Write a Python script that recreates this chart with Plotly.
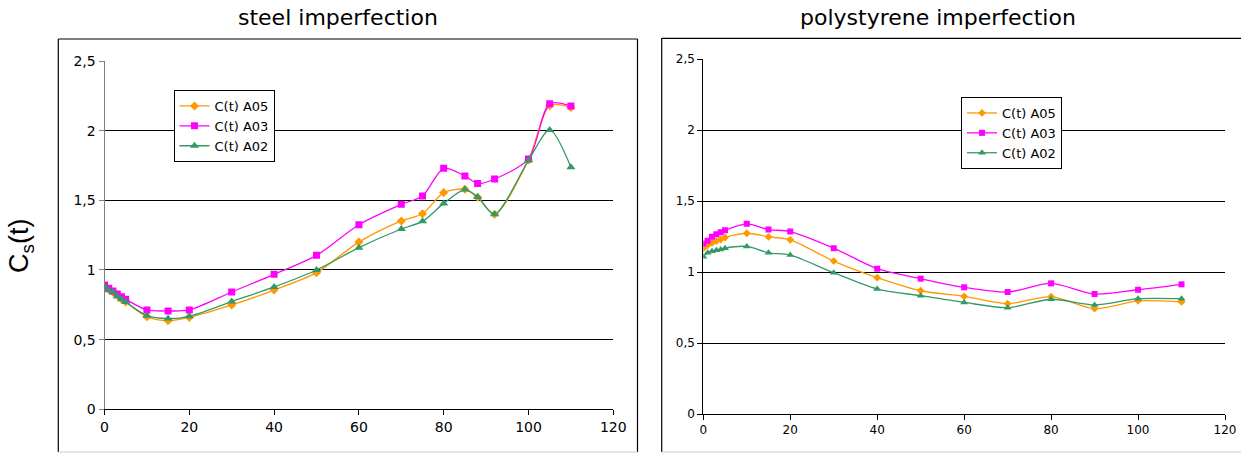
import plotly.graph_objects as go

# ---------------- data ----------------
t_steel = [0, 1, 2, 3, 4, 5, 10, 15, 20, 30, 40, 50, 60, 70, 75, 80, 85, 88, 92, 100, 105, 110]
steel_A05 = [0.88, 0.86, 0.84, 0.82, 0.79, 0.77, 0.665, 0.636, 0.66, 0.749, 0.856, 0.981, 1.20, 1.352, 1.404,
             1.555, 1.579, 1.522, 1.40, 1.79, 2.18, 2.167]
steel_A03 = [0.892, 0.868, 0.849, 0.827, 0.808, 0.79, 0.713, 0.706, 0.713, 0.842, 0.969, 1.105, 1.325, 1.471,
             1.531, 1.73, 1.675, 1.62, 1.653, 1.797, 2.194, 2.177]
steel_A02 = [0.885, 0.855, 0.84, 0.81, 0.79, 0.77, 0.672, 0.651, 0.667, 0.773, 0.878, 1.0, 1.16, 1.294, 1.349,
             1.478, 1.577, 1.524, 1.40, 1.787, 2.005, 1.737]

t_poly = [0, 1, 2, 3, 4, 5, 10, 15, 20, 30, 40, 50, 60, 70, 80, 90, 100, 110]
poly_A05 = [1.166, 1.19, 1.205, 1.217, 1.229, 1.243, 1.273, 1.248, 1.227, 1.077, 0.96, 0.868, 0.829, 0.777,
            0.826, 0.742, 0.796, 0.789]
poly_A03 = [1.20, 1.22, 1.248, 1.266, 1.28, 1.294, 1.339, 1.299, 1.285, 1.168, 1.023, 0.953, 0.892, 0.859,
            0.92, 0.845, 0.875, 0.913]
poly_A02 = [1.107, 1.135, 1.147, 1.154, 1.159, 1.168, 1.18, 1.135, 1.119, 0.995, 0.88, 0.833, 0.786, 0.749,
            0.808, 0.768, 0.812, 0.812]

series_names = ["C(t) A05", "C(t) A03", "C(t) A02"]
colors = ["#FF9900", "#FF00FF", "#339966"]
symbols = ["diamond", "square", "triangle-up"]
sizes = [7, 7, 8]

x_ticks = [0, 20, 40, 60, 80, 100, 120]
y_ticks = [0, 0.5, 1, 1.5, 2, 2.5]

titles = ["steel imperfection", "polystyrene imperfection"]
y_title = "C<sub>s</sub>(t)"

W, H = 1241, 454
FONT = "DejaVu Sans, Arial, sans-serif"
FONT_Y = "Liberation Sans, Arial, sans-serif"


def px(x):
    return x / W


def py(y):
    return 1 - y / H


fig = go.Figure()

for i, ys in enumerate([steel_A05, steel_A03, steel_A02]):
    fig.add_trace(go.Scatter(
        x=t_steel, y=ys, name=series_names[i], mode="lines+markers",
        line=dict(color=colors[i], width=1.3, shape="spline", smoothing=0.8),
        marker=dict(symbol=symbols[i], size=sizes[i], color=colors[i]),
        xaxis="x", yaxis="y", legend="legend"))

for i, ys in enumerate([poly_A05, poly_A03, poly_A02]):
    fig.add_trace(go.Scatter(
        x=t_poly, y=ys, name=series_names[i], mode="lines+markers",
        line=dict(color=colors[i], width=1.3, shape="spline", smoothing=0.8),
        marker=dict(symbol=symbols[i], size=sizes[i] - 1, color=colors[i]),
        xaxis="x2", yaxis="y2", legend="legend2"))

xcommon = dict(range=[0, 120], tickvals=x_ticks, showgrid=False, zeroline=False,
               showline=True, linecolor="black", linewidth=1, ticks="outside",
               ticklen=5, tickcolor="black", tickwidth=1, fixedrange=True,
               automargin=False)
ycommon = dict(range=[0, 2.5], tickvals=y_ticks, showgrid=True, gridcolor="black",
               gridwidth=1, zeroline=False, showline=True, linewidth=1,
               ticks="outside", ticklen=5, tickwidth=1, fixedrange=True,
               automargin=False)

fig.update_layout(
    width=W, height=H,
    autosize=False,
    margin=dict(l=0, r=0, t=0, b=0, pad=0, autoexpand=False),
    paper_bgcolor="white", plot_bgcolor="white",
    separators=",.",
    font=dict(family=FONT, color="black", size=13),
    xaxis=dict(domain=[px(104.5), px(613.3)], anchor="y",
               tickfont=dict(size=14, family=FONT), **xcommon),
    yaxis=dict(domain=[py(409.3), py(61)], anchor="x", linecolor="#808080",
               tickcolor="#808080", tickfont=dict(size=14, family=FONT), **ycommon),
    xaxis2=dict(domain=[px(703.3), px(1225)], anchor="y2",
                tickfont=dict(size=12, family=FONT), **xcommon),
    yaxis2=dict(domain=[py(414), py(59)], anchor="x2", linecolor="black",
                tickcolor="black", tickfont=dict(size=12, family=FONT), **ycommon),
    legend=dict(x=px(173.5), y=py(90), xanchor="left", yanchor="top",
                bgcolor="white", bordercolor="black", borderwidth=1,
                font=dict(size=13, family=FONT), tracegroupgap=0,
                itemwidth=30),
    legend2=dict(x=px(961), y=py(97), xanchor="left", yanchor="top",
                 bgcolor="white", bordercolor="black", borderwidth=1,
                 font=dict(size=13, family=FONT), tracegroupgap=0,
                 itemwidth=30),
    showlegend=True,
)

# outer chart boxes
shapes = [
    dict(type="line", xref="paper", yref="paper", x0=px(58.3), x1=px(637.5), y0=py(39), y1=py(39),
         line=dict(color="black", width=1.2)),
    dict(type="line", xref="paper", yref="paper", x0=px(58.3), x1=px(58.3), y0=py(39), y1=py(452),
         line=dict(color="black", width=1.2)),
    dict(type="line", xref="paper", yref="paper", x0=px(637.5), x1=px(637.5), y0=py(39), y1=py(452),
         line=dict(color="black", width=1.2)),
    dict(type="line", xref="paper", yref="paper", x0=px(58.3), x1=px(637.5), y0=py(452), y1=py(452),
         line=dict(color="#cccccc", width=1)),
    dict(type="line", xref="paper", yref="paper", x0=px(661.7), x1=1.0, y0=py(38.3), y1=py(38.3),
         line=dict(color="black", width=1.2)),
    dict(type="line", xref="paper", yref="paper", x0=px(661.7), x1=px(661.7), y0=py(38.3), y1=py(452),
         line=dict(color="black", width=1.2)),
    dict(type="line", xref="paper", yref="paper", x0=px(661.7), x1=1.0, y0=py(452), y1=py(452),
         line=dict(color="#cccccc", width=1)),
]
fig.update_layout(shapes=shapes)

annotations = [
    dict(text=titles[0], xref="paper", yref="paper", x=px(338), y=py(18), showarrow=False,
         xanchor="center", yanchor="middle", font=dict(size=22, family=FONT)),
    dict(text=titles[1], xref="paper", yref="paper", x=px(938), y=py(18), showarrow=False,
         xanchor="center", yanchor="middle", font=dict(size=22, family=FONT)),
    dict(text=y_title, xref="paper", yref="paper", x=px(21), y=py(246), showarrow=False,
         textangle=-90, xanchor="center", yanchor="middle", font=dict(size=27, family=FONT_Y)),
]
fig.update_layout(annotations=annotations)

fig.write_html("out.html",
               config={"displayModeBar": False, "staticPlot": True},
               post_script="document.body.style.margin='0px';"
                           "document.body.style.overflow='hidden';")
